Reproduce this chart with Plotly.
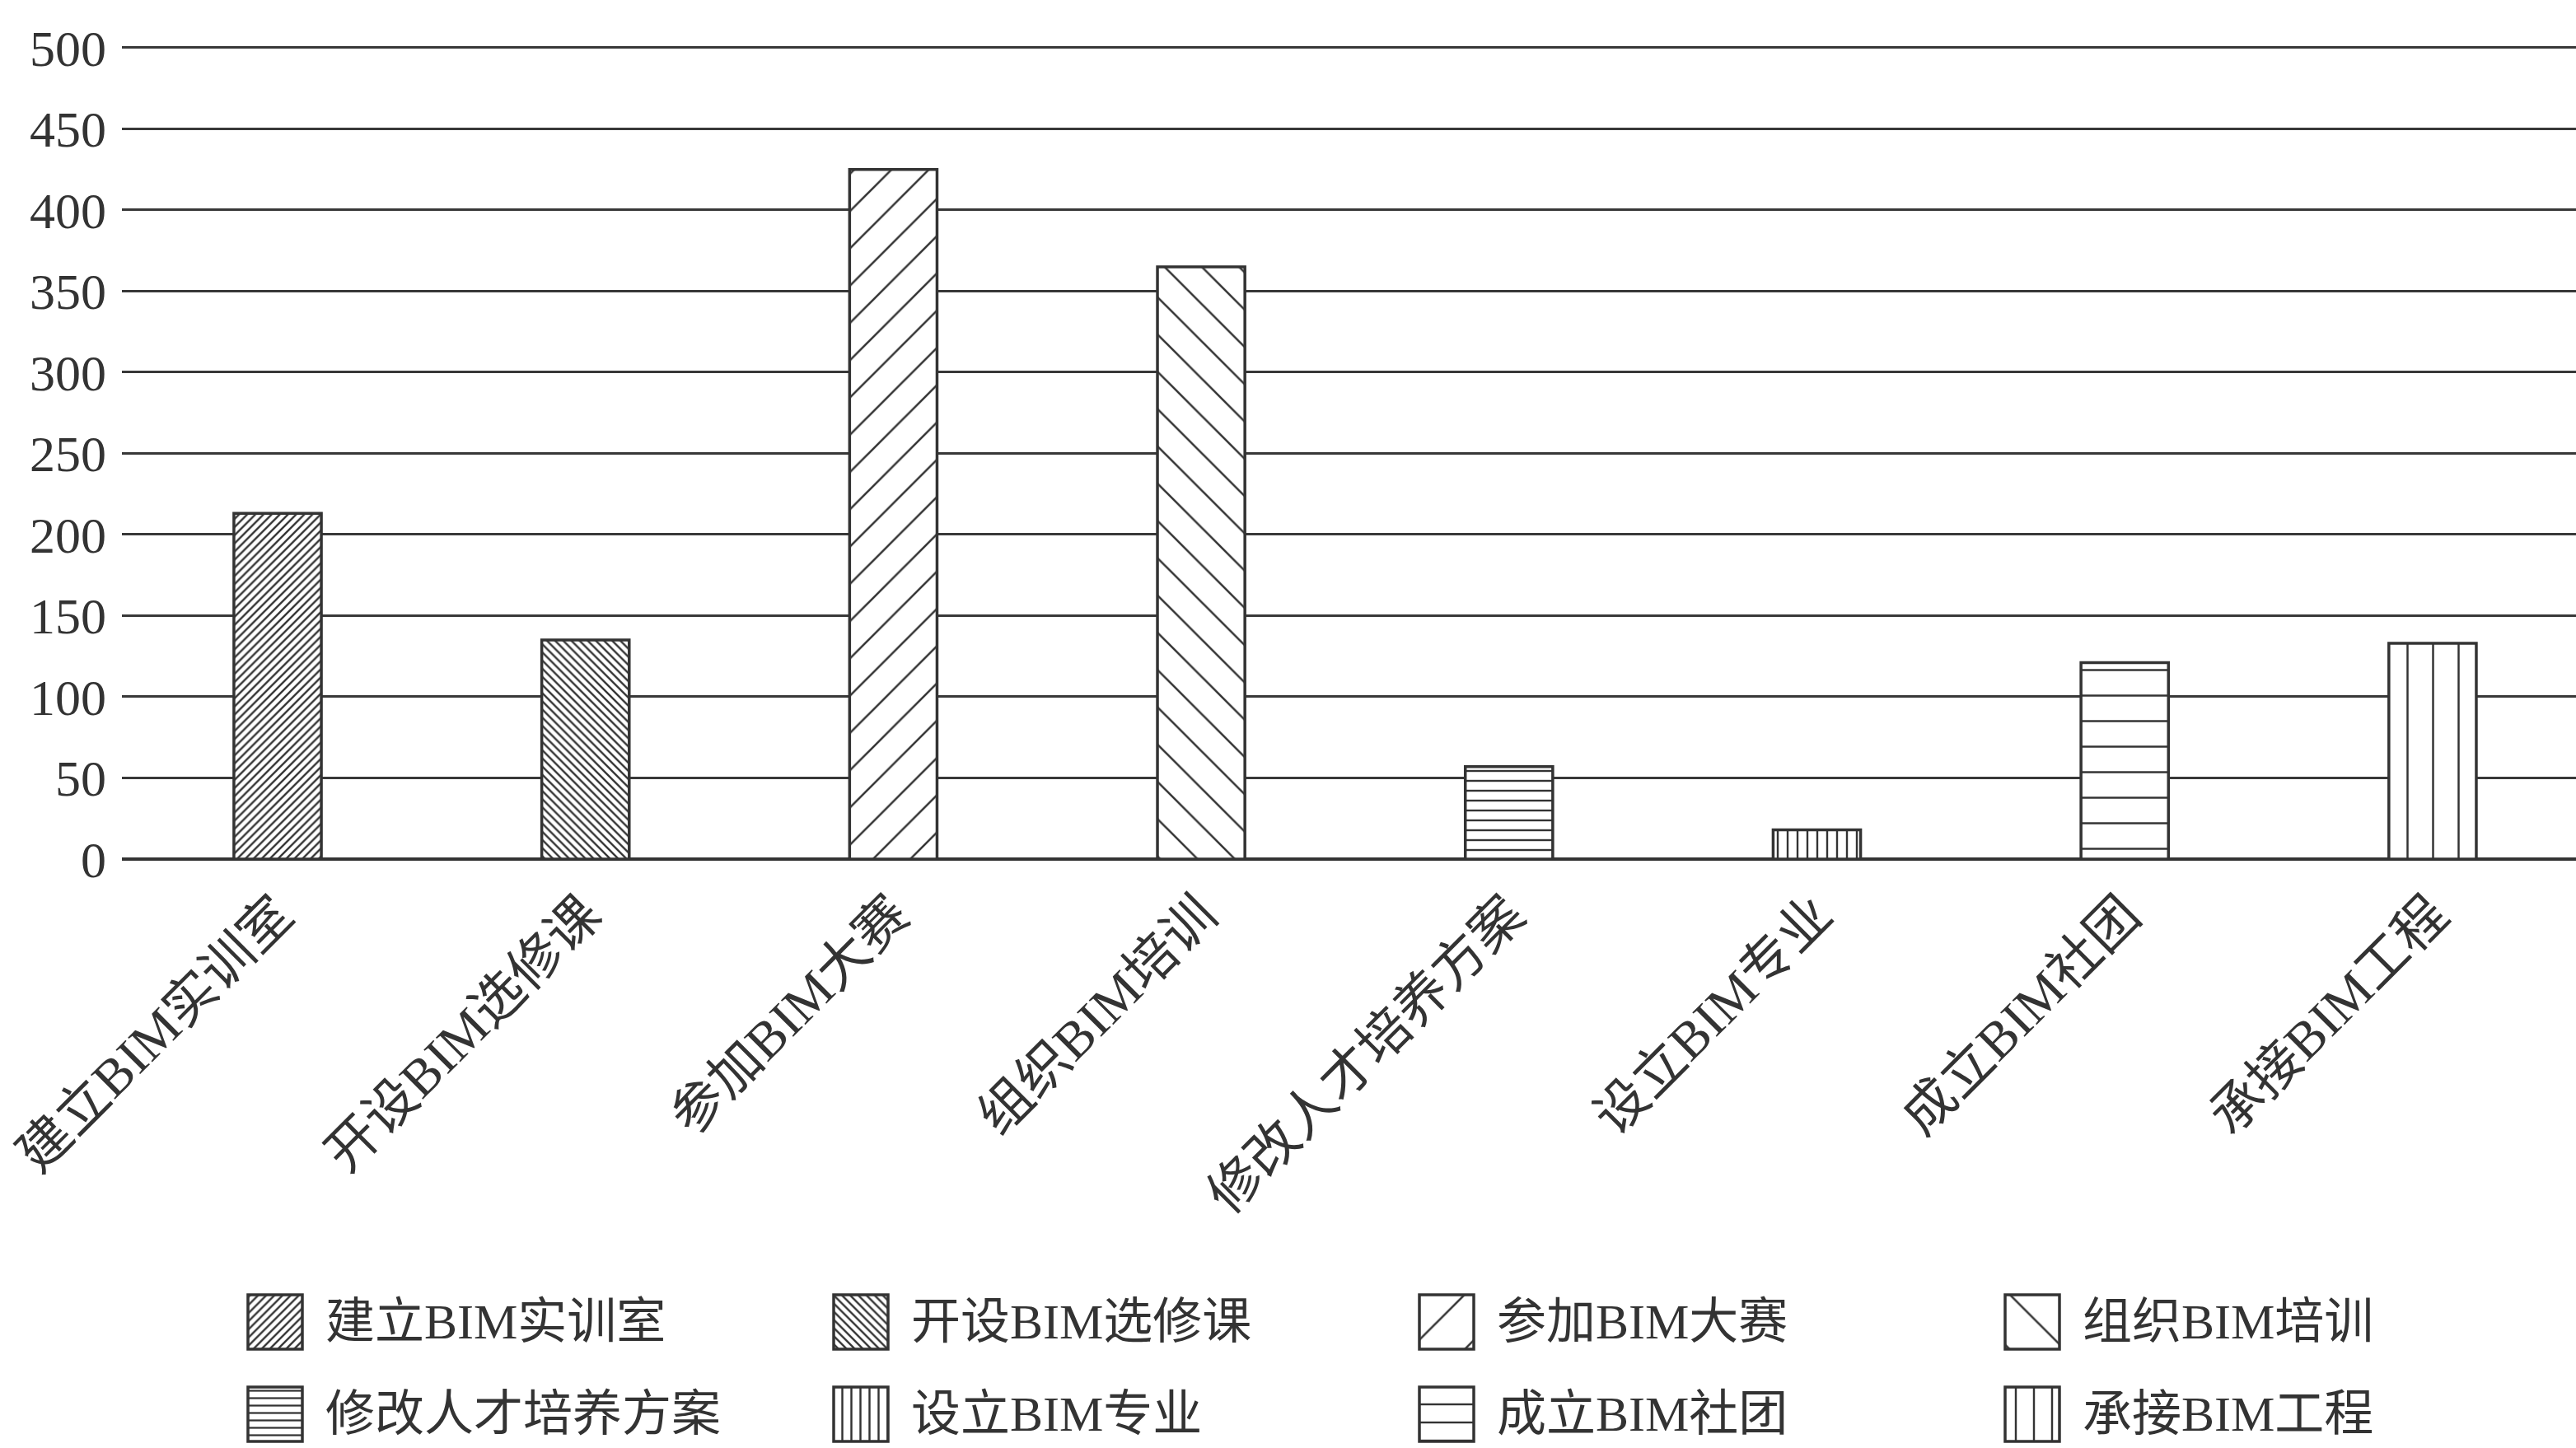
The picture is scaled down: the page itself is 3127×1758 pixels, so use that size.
import plotly.graph_objects as go

# ---------------- data ----------------
categories = ["建立BIM实训室", "开设BIM选修课", "参加BIM大赛", "组织BIM培训",
              "修改人才培养方案", "设立BIM专业", "成立BIM社团", "承接BIM工程"]
values = [213, 135, 425, 365, 57, 18, 121, 133]
y_tick_values = [0, 50, 100, 150, 200, 250, 300, 350, 400, 450, 500]
y_tick_labels = ["0", "50", "100", "150", "200", "250", "300", "350", "400", "450", "500"]

# ---------------- styles ----------------
pattern_shapes = ["/", "\\", "/", "\\", "-", "|", "-", "|"]
pattern_sizes = [7, 7, 32, 32, 12, 12, 31, 31]
pattern_solidity = [0.34, 0.34, 0.08, 0.08, 0.2, 0.2, 0.08, 0.08]
legend_pattern_sizes = [7, 7, 47, 47, 9, 11, 22, 22]
legend_pattern_solidity = [0.34, 0.34, 0.055, 0.055, 0.25, 0.22, 0.11, 0.11]
INK = "#333333"
SERIF_CJK = "Liberation Serif, Noto Sans CJK SC, serif"

W, H = 3127, 1758
ML = 148
y_top = 502
px_per_unit = (1043 - 57.5) / 500
MT = round(57.5 - (y_top - 500) * px_per_unit)
plot_w = W - ML
plot_h = H - MT
axis_bottom_px = 1043
band_px = 373.7
first_center_px = 337
x_start = -(first_center_px - ML) / band_px
x_end = x_start + plot_w / band_px

fig = go.Figure()

fig.add_trace(go.Bar(
    x=categories,
    y=values,
    width=0.284,
    marker=dict(
        color="white",
        line=dict(color=INK, width=3.5),
        pattern=dict(shape=pattern_shapes, size=pattern_sizes,
                     solidity=pattern_solidity, fgcolor=INK,
                     bgcolor="white", fillmode="replace"),
    ),
    showlegend=False,
    hoverinfo="x+y",
))

# ---------------- custom legend (2 rows x 4 columns) ----------------
n_cols = 4
col_left0, col_pitch = 301, 711
row_top0, row_pitch = 1572, 112
sw = 66
leg_cols = [i % n_cols for i in range(len(categories))]
leg_rows = [i // n_cols for i in range(len(categories))]
leg_x = [col_left0 + col_pitch * c + sw / 2 for c in leg_cols]
leg_base = [row_top0 + row_pitch * r for r in leg_rows]

fig.add_trace(go.Bar(
    x=leg_x,
    y=[sw] * len(categories),
    base=leg_base,
    width=sw,
    xaxis="x2", yaxis="y2",
    marker=dict(
        color="white",
        line=dict(color=INK, width=3.5),
        pattern=dict(shape=pattern_shapes,
                     size=legend_pattern_sizes,
                     solidity=legend_pattern_solidity, fgcolor=INK,
                     bgcolor="white", fillmode="replace"),
    ),
    showlegend=False,
    hoverinfo="skip",
))

annotations = []
for i, name in enumerate(categories):
    annotations.append(dict(
        x=col_left0 + col_pitch * leg_cols[i] + sw + 26,
        y=row_top0 + row_pitch * leg_rows[i] + sw / 2,
        xref="x2", yref="y2", text=name, showarrow=False,
        xanchor="left", yanchor="middle",
        font=dict(family=SERIF_CJK, size=60, color="#333333"),
    ))

legend_top_px = 1540
fig.update_layout(
    width=W, height=H,
    margin=dict(l=ML, r=0, t=MT, b=0, pad=0, autoexpand=False),
    paper_bgcolor="white",
    plot_bgcolor="white",
    bargap=0.7,
    annotations=annotations,
    xaxis=dict(
        type="category",
        range=[x_start, x_end],
        domain=[0, 1],
        anchor="y",
        automargin=False,
        showgrid=False,
        showline=False,
        zeroline=False,
        ticks="",
        tickangle=-45,
        ticklabelstandoff=16,
        tickfont=dict(family=SERIF_CJK, size=64, color="#333333"),
    ),
    yaxis=dict(
        domain=[(H - axis_bottom_px) / plot_h, 1],
        range=[0, y_top],
        automargin=False,
        tickvals=y_tick_values,
        ticktext=y_tick_labels,
        showgrid=True,
        gridcolor="#383838",
        gridwidth=3,
        zeroline=True,
        zerolinecolor="#333333",
        zerolinewidth=4,
        showline=False,
        ticks="",
        ticklabelstandoff=18,
        tickfont=dict(family="Liberation Serif, serif", size=62, color="#333333"),
    ),
    xaxis2=dict(
        domain=[0, 1], anchor="y2", range=[ML, W], visible=False, automargin=False,
    ),
    yaxis2=dict(
        domain=[0, (H - legend_top_px) / plot_h], anchor="x2",
        range=[H, legend_top_px], visible=False, automargin=False,
    ),
)

fig.write_html("out.html")
